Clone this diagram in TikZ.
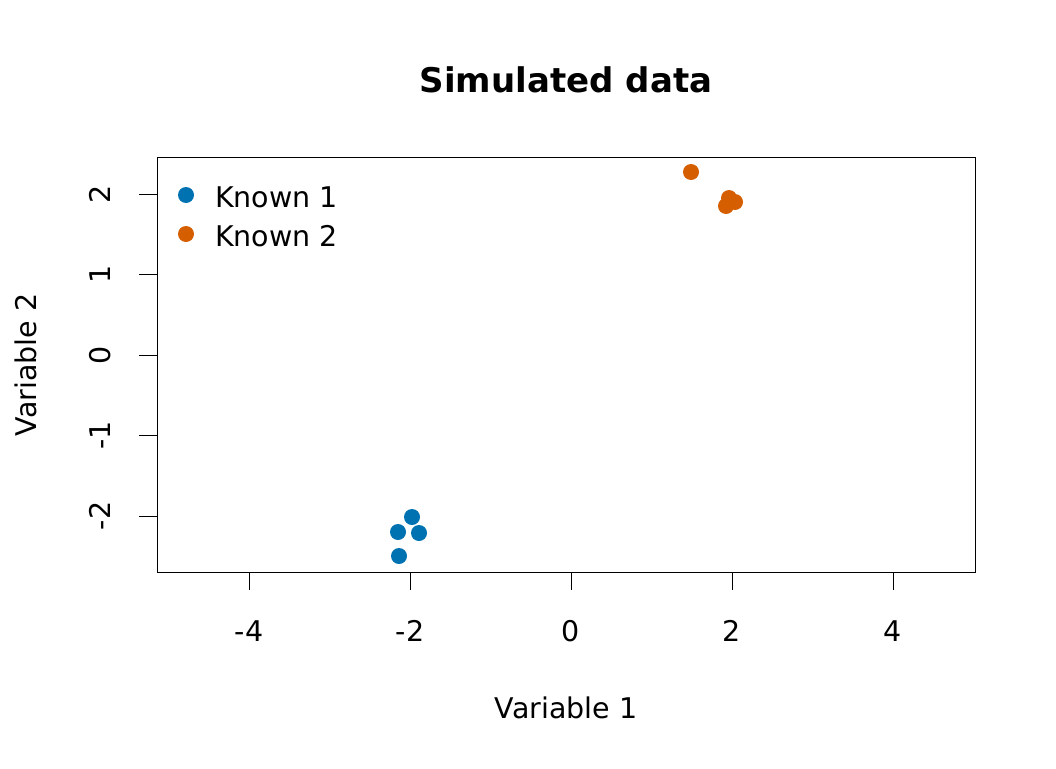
\documentclass[tikz,border=0pt]{standalone}
\usepackage{fontspec}
\setmainfont{DejaVu Sans}
\definecolor{kblue}{HTML}{0072B2}
\definecolor{korange}{HTML}{D55E00}
\begin{document}
\begin{tikzpicture}[x=1pt,y=-1pt,
  lab/.style={font=\fontsize{28.5}{34}\selectfont, inner sep=0},
  tick/.style={line width=1pt}]
\useasboundingbox (0,0) rectangle (1056,768);
\node[font=\bfseries\fontsize{34}{40}\selectfont] (title) at (566,80) {Simulated data};
\draw[line width=1pt] (157,157) rectangle (975,572);
% x axis
\foreach \v/\px in {-4/249,-2/410,0/571,2/732,4/893}{
  \draw[tick] (\px,572) -- (\px,590);
  \node[lab] at (\px,631) {\v};
}
% y axis
\foreach \v/\py in {-2/516,-1/435.5,0/355,1/274.5,2/194}{
  \draw[tick] (157,\py) -- (139,\py);
  \node[lab, rotate=90] at (100,\py) {\v};
}
\node[lab] (xl) at (566,708) {Variable 1};
\node[lab, rotate=90] (yl) at (26,365) {Variable 2};
% points
\foreach \px/\py in {412/517,398/532,419/533,399/556}
  \fill[kblue] (\px,\py) circle (8);
\foreach \px/\py in {691/172,729/198,735/202,726/206}
  \fill[korange] (\px,\py) circle (8);
% legend
\fill[kblue] (186,195) circle (8);
\fill[korange] (186,234) circle (8);
\node[lab, anchor=west] (k1) at (215,197) {Known 1};
\node[lab, anchor=west] (k2) at (215,236) {Known 2};
\end{tikzpicture}
\end{document}
